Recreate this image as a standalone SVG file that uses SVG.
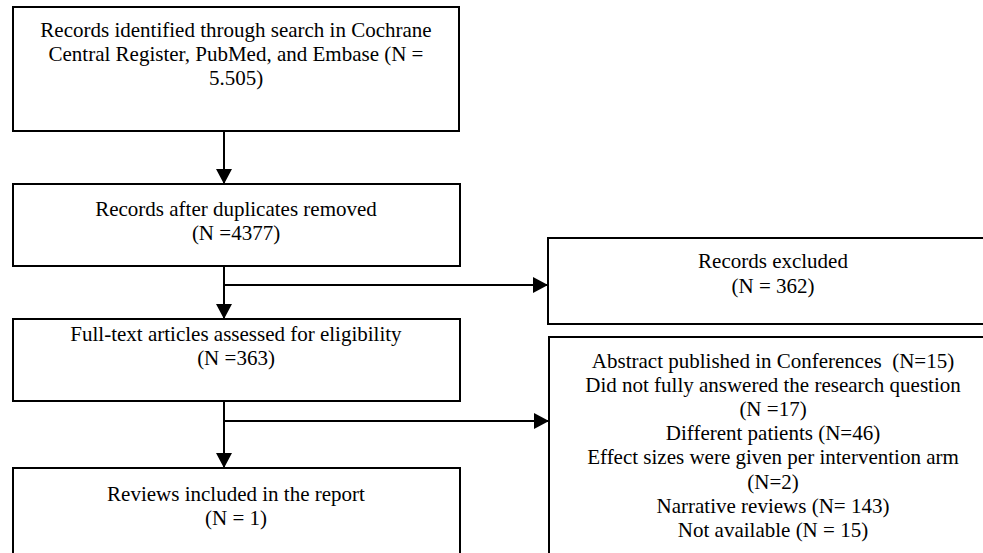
<svg xmlns="http://www.w3.org/2000/svg" width="983" height="553" viewBox="0 0 983 553">
<style>
.box{fill:#fff;stroke:#000;stroke-width:2}
.t{font-family:"Liberation Serif","Times New Roman",serif;font-size:21px;fill:#000;text-anchor:middle;white-space:pre}
.c{fill:none;stroke:#000;stroke-width:2}
</style>
<defs>
<marker id="ah" viewBox="0 0 15 16" refX="15" refY="8" markerWidth="15" markerHeight="16" markerUnits="userSpaceOnUse" orient="auto">
<path d="M0,0 L15,8 L0,16 Z" fill="#000"/>
</marker>
</defs>
<rect width="983" height="553" fill="#fff"/>
<g id="identified">
<rect class="box" x="13" y="7" width="446" height="124"/>
<text class="t" x="236" y="37">Records identified through search in Cochrane</text>
<text class="t" x="236" y="61">Central Register, PubMed, and Embase (N =</text>
<text class="t" x="236" y="85">5.505)</text>
</g>
<g id="deduplicated">
<rect class="box" x="13" y="184" width="447" height="82"/>
<text class="t" x="236" y="216">Records after duplicates removed</text>
<text class="t" x="236" y="240">(N =4377)</text>
</g>
<g id="fulltext">
<rect class="box" x="13" y="319" width="447" height="82"/>
<text class="t" x="236" y="341">Full-text articles assessed for eligibility</text>
<text class="t" x="236" y="365">(N =363)</text>
</g>
<g id="included">
<rect class="box" x="13" y="468" width="447" height="100"/>
<text class="t" x="236" y="501">Reviews included in the report</text>
<text class="t" x="236" y="525">(N = 1)</text>
</g>
<g id="excluded">
<rect class="box" x="548" y="238" width="450" height="86"/>
<text class="t" x="773" y="268">Records excluded</text>
<text class="t" x="773" y="293">(N = 362)</text>
</g>
<g id="reasons">
<rect class="box" x="549" y="337" width="450" height="230"/>
<text class="t" x="773" y="368">Abstract published in Conferences  (N=15)</text>
<text class="t" x="773" y="392">Did not fully answered the research question</text>
<text class="t" x="773" y="416">(N =17)</text>
<text class="t" x="773" y="440">Different patients (N=46)</text>
<text class="t" x="773" y="464">Effect sizes were given per intervention arm</text>
<text class="t" x="773" y="489">(N=2)</text>
<text class="t" x="773" y="513">Narrative reviews (N= 143)</text>
<text class="t" x="773" y="537">Not available (N = 15)</text>
</g>
<g id="connectors">
<line class="c" x1="224" y1="131" x2="224" y2="184" marker-end="url(#ah)"/>
<line class="c" x1="224" y1="266" x2="224" y2="319" marker-end="url(#ah)"/>
<line class="c" x1="224" y1="285" x2="548" y2="285" marker-end="url(#ah)"/>
<line class="c" x1="224" y1="401" x2="224" y2="468" marker-end="url(#ah)"/>
<line class="c" x1="224" y1="421" x2="549" y2="421" marker-end="url(#ah)"/>
</g>
</svg>
